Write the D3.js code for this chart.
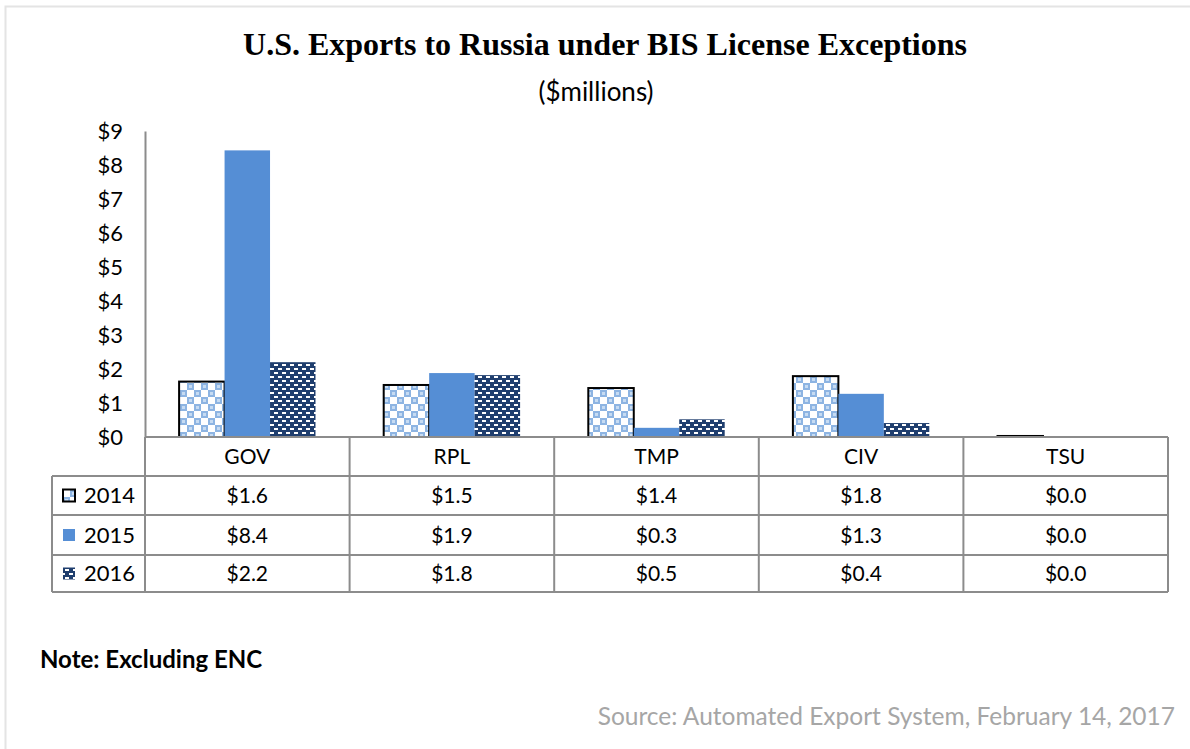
<!DOCTYPE html>
<html>
<head>
<meta charset="utf-8">
<script src="https://cdn.jsdelivr.net/npm/d3@7"></script>
<style>
  body { margin: 0; background: #fff; }
  text { font-family: Lato, "Open Sans", sans-serif; fill: #000; }
</style>
</head>
<body>
<svg id="chart" width="1190" height="749"></svg>
<script>
// data
const categories = ["GOV", "RPL", "TMP", "CIV", "TSU"];
const years = ["2014", "2015", "2016"];
const values2014 = [1.63, 1.53, 1.44, 1.79, 0.03];
const values2015 = [8.43, 1.88, 0.27, 1.27, 0];
const values2016 = [2.2, 1.82, 0.52, 0.41, 0];
const yTicks = [0, 1, 2, 3, 4, 5, 6, 7, 8, 9];

const series = [
    {year: years[0], values: values2014, fill: "url(#pat2014)", stroke: "#000"},
    {year: years[1], values: values2015, fill: "#558ed5", stroke: "none"},
    {year: years[2], values: values2016, fill: "url(#pat2016)", stroke: "none"}
];

let svg = d3.select("#chart");
let margin = {left: 145, right: 22, top: 131};
let plotW = 1190 - margin.left - margin.right;
let plotH = 437 - margin.top;
let rowH = [39, 39, 40, 37];
let legendX = 52;
let gridColor = "#8c8c8c";

// patterns
let defs = svg.append("defs");
let p14 = defs.append("pattern").attr("id", "pat2014")
    .attr("patternUnits", "userSpaceOnUse").attr("width", 14).attr("height", 14);
p14.append("rect").attr("width", 14).attr("height", 14).attr("fill", "#fff");
p14.append("rect").attr("x", 0).attr("y", 0).attr("width", 7).attr("height", 7).attr("fill", "#8db4e2");
p14.append("rect").attr("x", 7).attr("y", 7).attr("width", 7).attr("height", 7).attr("fill", "#8db4e2");
p14.append("rect").attr("x", 2).attr("y", 2).attr("width", 3).attr("height", 3).attr("fill", "#c6dbf2");
p14.append("rect").attr("x", 9).attr("y", 9).attr("width", 3).attr("height", 3).attr("fill", "#c6dbf2");

let p16 = defs.append("pattern").attr("id", "pat2016")
    .attr("patternUnits", "userSpaceOnUse").attr("width", 8).attr("height", 8);
p16.append("rect").attr("width", 8).attr("height", 8).attr("fill", "#1f3e6e");
p16.append("rect").attr("x", 1).attr("y", 1).attr("width", 4).attr("height", 2).attr("fill", "#fff");
p16.append("rect").attr("x", 5).attr("y", 5).attr("width", 4).attr("height", 2).attr("fill", "#fff");
p16.append("rect").attr("x", -3).attr("y", 5).attr("width", 4).attr("height", 2).attr("fill", "#fff");

// outer frame
svg.append("rect").attr("x", 5.5).attr("y", 6.5).attr("width", 1190).attr("height", 760)
    .attr("fill", "none").attr("stroke", "#e4e4e4").attr("stroke-width", 2);

// titles
svg.append("text").attr("x", 605).attr("y", 55).attr("text-anchor", "middle")
    .style("font-family", "'Liberation Serif', 'Times New Roman', serif")
    .style("font-weight", "bold").style("font-size", "32px")
    .text("U.S. Exports to Russia under BIS License Exceptions");
svg.append("text").attr("x", 596).attr("y", 101).attr("text-anchor", "middle")
    .style("font-size", "26px").text("($millions)");

// scales
let x0 = d3.scaleBand().domain(categories).range([0, plotW]);
let x1 = d3.scaleBand().domain(years).range([0, x0.bandwidth()]).paddingInner(0).paddingOuter(0.75);
let y = d3.scaleLinear().domain([0, 9]).range([plotH, 0]);

let g = svg.append("g").attr("transform", "translate(" + margin.left + "," + margin.top + ")");

// y axis
let yAxis = g.append("g").call(d3.axisLeft(y).tickValues(yTicks).tickSize(0).tickPadding(22)
    .tickFormat(d => "$" + d));
yAxis.select(".domain").attr("stroke", gridColor).attr("stroke-width", 2);
yAxis.selectAll("text").style("font-size", "22px").style("font-family", "Lato, sans-serif")
    .attr("dy", "0.35em");

// bars
series.forEach(function (s) {
    g.append("g").selectAll("rect")
        .data(s.values)
        .join("rect")
        .attr("x", (d, i) => x0(categories[i]) + x1(s.year))
        .attr("y", d => y(d))
        .attr("width", x1.bandwidth())
        .attr("height", d => plotH - y(d))
        .attr("fill", s.fill)
        .attr("stroke", s.stroke)
        .attr("stroke-width", s.stroke === "none" ? 0 : 2);
});

// data table
let tableTop = 437;
let rowY = [tableTop];
rowH.forEach((h, i) => rowY.push(rowY[i] + h));
let tRight = margin.left + plotW;
let tg = svg.append("g").attr("stroke", gridColor).attr("stroke-width", 2);

// horizontal lines
tg.append("line").attr("x1", margin.left).attr("x2", tRight).attr("y1", rowY[0]).attr("y2", rowY[0]);
for (let i = 1; i < rowY.length; i++) {
    tg.append("line").attr("x1", legendX).attr("x2", tRight).attr("y1", rowY[i]).attr("y2", rowY[i]);
}
// vertical lines
tg.append("line").attr("x1", legendX).attr("x2", legendX).attr("y1", rowY[1]).attr("y2", rowY[4]);
categories.concat(["end"]).forEach(function (c, i) {
    let xx = margin.left + (i < categories.length ? x0(c) : plotW);
    tg.append("line").attr("x1", xx).attr("x2", xx).attr("y1", rowY[0]).attr("y2", rowY[4]);
});

// header labels
svg.append("g").selectAll("text").data(categories).join("text")
    .attr("x", d => margin.left + x0(d) + x0.bandwidth() / 2)
    .attr("y", (rowY[0] + rowY[1]) / 2)
    .attr("dy", "0.36em").attr("text-anchor", "middle")
    .style("font-size", "21px").text(d => d);

// value rows
let fmt = d3.format(".1f");
series.forEach(function (s, r) {
    let cy = (rowY[r + 1] + rowY[r + 2]) / 2;
    svg.append("g").selectAll("text").data(s.values).join("text")
        .attr("x", (d, i) => margin.left + x0(categories[i]) + x0.bandwidth() / 2)
        .attr("y", cy).attr("dy", "0.36em").attr("text-anchor", "middle")
        .style("font-size", "21px").text(d => "$" + fmt(d));

    // legend key
    let k = 12;
    svg.append("rect").attr("x", 63).attr("y", cy - k / 2).attr("width", k).attr("height", k)
        .attr("fill", s.fill).attr("stroke", s.stroke).attr("stroke-width", s.stroke === "none" ? 0 : 2);
    svg.append("text").attr("x", 84).attr("y", cy).attr("dy", "0.36em")
        .style("font-size", "22px").text(s.year);
});

// notes
svg.append("text").attr("x", 40).attr("y", 668)
    .style("font-size", "24px").style("font-weight", "bold").text("Note: Excluding ENC");
svg.append("text").attr("x", 1175).attr("y", 725).attr("text-anchor", "end")
    .style("font-size", "24.5px").style("fill", "#a6a6a6")
    .text("Source: Automated Export System, February 14, 2017");
</script>
</body>
</html>
